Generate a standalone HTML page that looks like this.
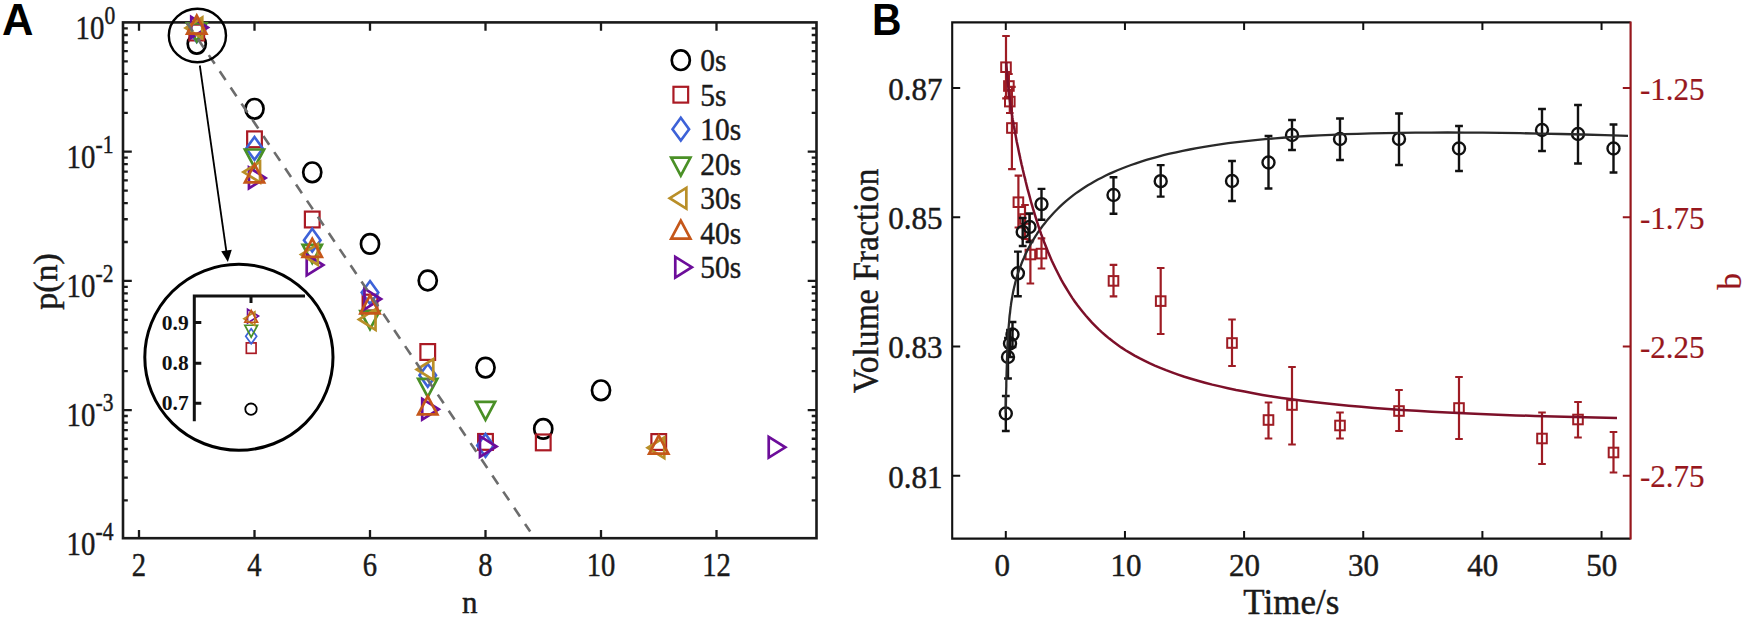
<!DOCTYPE html>
<html lang="en">
<head>
<meta charset="utf-8">
<title>Figure: p(n) distribution and volume fraction vs time</title>
<style>
html,body{margin:0;padding:0;background:#ffffff;}
body{width:1746px;height:622px;overflow:hidden;font-family:"Liberation Serif",serif;}
svg{display:block;}
</style>
</head>
<body>
<svg width="1746" height="622" viewBox="0 0 1746 622">
<rect x="0" y="0" width="1746" height="622" fill="#ffffff"/>
<g id="panelA">
<rect x="123.0" y="22.4" width="693.5" height="515.8000000000001" fill="none" stroke="#1a1a1a" stroke-width="2.6"/>
<path d="M139.00 538.2 v-8.3 M139.00 22.4 v8.3 M254.50 538.2 v-8.3 M254.50 22.4 v8.3 M370.00 538.2 v-8.3 M370.00 22.4 v8.3 M485.50 538.2 v-8.3 M485.50 22.4 v8.3 M601.00 538.2 v-8.3 M601.00 22.4 v8.3 M716.50 538.2 v-8.3 M716.50 22.4 v8.3 M123.0 112.81 h4.8 M816.5 112.81 h-4.8 M123.0 90.06 h4.8 M816.5 90.06 h-4.8 M123.0 73.91 h4.8 M816.5 73.91 h-4.8 M123.0 61.39 h4.8 M816.5 61.39 h-4.8 M123.0 51.16 h4.8 M816.5 51.16 h-4.8 M123.0 42.51 h4.8 M816.5 42.51 h-4.8 M123.0 35.02 h4.8 M816.5 35.02 h-4.8 M123.0 28.41 h4.8 M816.5 28.41 h-4.8 M123.0 151.70 h8.8 M816.5 151.70 h-8.8 M123.0 242.01 h4.8 M816.5 242.01 h-4.8 M123.0 219.26 h4.8 M816.5 219.26 h-4.8 M123.0 203.11 h4.8 M816.5 203.11 h-4.8 M123.0 190.59 h4.8 M816.5 190.59 h-4.8 M123.0 180.36 h4.8 M816.5 180.36 h-4.8 M123.0 171.71 h4.8 M816.5 171.71 h-4.8 M123.0 164.22 h4.8 M816.5 164.22 h-4.8 M123.0 157.61 h4.8 M816.5 157.61 h-4.8 M123.0 280.90 h8.8 M816.5 280.90 h-8.8 M123.0 371.21 h4.8 M816.5 371.21 h-4.8 M123.0 348.46 h4.8 M816.5 348.46 h-4.8 M123.0 332.31 h4.8 M816.5 332.31 h-4.8 M123.0 319.79 h4.8 M816.5 319.79 h-4.8 M123.0 309.56 h4.8 M816.5 309.56 h-4.8 M123.0 300.91 h4.8 M816.5 300.91 h-4.8 M123.0 293.42 h4.8 M816.5 293.42 h-4.8 M123.0 286.81 h4.8 M816.5 286.81 h-4.8 M123.0 410.10 h8.8 M816.5 410.10 h-8.8 M123.0 500.41 h4.8 M816.5 500.41 h-4.8 M123.0 477.66 h4.8 M816.5 477.66 h-4.8 M123.0 461.51 h4.8 M816.5 461.51 h-4.8 M123.0 448.99 h4.8 M816.5 448.99 h-4.8 M123.0 438.76 h4.8 M816.5 438.76 h-4.8 M123.0 430.11 h4.8 M816.5 430.11 h-4.8 M123.0 422.62 h4.8 M816.5 422.62 h-4.8 M123.0 416.01 h4.8 M816.5 416.01 h-4.8" stroke="#1a1a1a" stroke-width="2.3" fill="none"/>
<text transform="translate(104.30 38.60) scale(0.86 1)" font-family='"Liberation Serif", serif' font-size="33.5" text-anchor="end" fill="#1a1a1a" stroke="#1a1a1a" stroke-width="0.45">10</text>
<text transform="translate(104.60 23.50) scale(0.86 1)" font-family='"Liberation Serif", serif' font-size="25" text-anchor="start" fill="#1a1a1a" stroke="#1a1a1a" stroke-width="0.45">0</text>
<text transform="translate(95.30 167.80) scale(0.86 1)" font-family='"Liberation Serif", serif' font-size="33.5" text-anchor="end" fill="#1a1a1a" stroke="#1a1a1a" stroke-width="0.45">10</text>
<text transform="translate(95.60 152.70) scale(0.86 1)" font-family='"Liberation Serif", serif' font-size="25" text-anchor="start" fill="#1a1a1a" stroke="#1a1a1a" stroke-width="0.45">-1</text>
<text transform="translate(95.30 297.00) scale(0.86 1)" font-family='"Liberation Serif", serif' font-size="33.5" text-anchor="end" fill="#1a1a1a" stroke="#1a1a1a" stroke-width="0.45">10</text>
<text transform="translate(95.60 281.90) scale(0.86 1)" font-family='"Liberation Serif", serif' font-size="25" text-anchor="start" fill="#1a1a1a" stroke="#1a1a1a" stroke-width="0.45">-2</text>
<text transform="translate(95.30 426.20) scale(0.86 1)" font-family='"Liberation Serif", serif' font-size="33.5" text-anchor="end" fill="#1a1a1a" stroke="#1a1a1a" stroke-width="0.45">10</text>
<text transform="translate(95.60 411.10) scale(0.86 1)" font-family='"Liberation Serif", serif' font-size="25" text-anchor="start" fill="#1a1a1a" stroke="#1a1a1a" stroke-width="0.45">-3</text>
<text transform="translate(95.30 555.40) scale(0.86 1)" font-family='"Liberation Serif", serif' font-size="33.5" text-anchor="end" fill="#1a1a1a" stroke="#1a1a1a" stroke-width="0.45">10</text>
<text transform="translate(95.60 540.30) scale(0.86 1)" font-family='"Liberation Serif", serif' font-size="25" text-anchor="start" fill="#1a1a1a" stroke="#1a1a1a" stroke-width="0.45">-4</text>
<text transform="translate(139.00 575.70) scale(0.855 1)" font-family='"Liberation Serif", serif' font-size="33.5" text-anchor="middle" fill="#1a1a1a" stroke="#1a1a1a" stroke-width="0.45">2</text>
<text transform="translate(254.50 575.70) scale(0.855 1)" font-family='"Liberation Serif", serif' font-size="33.5" text-anchor="middle" fill="#1a1a1a" stroke="#1a1a1a" stroke-width="0.45">4</text>
<text transform="translate(370.00 575.70) scale(0.855 1)" font-family='"Liberation Serif", serif' font-size="33.5" text-anchor="middle" fill="#1a1a1a" stroke="#1a1a1a" stroke-width="0.45">6</text>
<text transform="translate(485.50 575.70) scale(0.855 1)" font-family='"Liberation Serif", serif' font-size="33.5" text-anchor="middle" fill="#1a1a1a" stroke="#1a1a1a" stroke-width="0.45">8</text>
<text transform="translate(601.00 575.70) scale(0.855 1)" font-family='"Liberation Serif", serif' font-size="33.5" text-anchor="middle" fill="#1a1a1a" stroke="#1a1a1a" stroke-width="0.45">10</text>
<text transform="translate(716.50 575.70) scale(0.855 1)" font-family='"Liberation Serif", serif' font-size="33.5" text-anchor="middle" fill="#1a1a1a" stroke="#1a1a1a" stroke-width="0.45">12</text>
<text transform="translate(469.80 612.90) scale(0.97 1)" font-family='"Liberation Serif", serif' font-size="32" text-anchor="middle" fill="#1a1a1a" stroke="#1a1a1a" stroke-width="0.45">n</text>
<text transform="translate(56.50 281.50) rotate(-90) scale(1.03 1)" font-family='"Liberation Serif", serif' font-size="33" text-anchor="middle" fill="#1a1a1a" stroke="#1a1a1a" stroke-width="0.45">p(n)</text>
<text transform="translate(1.90 35.00) scale(0.99 1)" font-family='"Liberation Sans", sans-serif' font-size="44" font-weight="bold" text-anchor="start" fill="#000">A</text>
<ellipse cx="196.75" cy="43.80" rx="9.05" ry="9.80" fill="none" stroke="#000000" stroke-width="2.70"/>
<ellipse cx="254.50" cy="108.80" rx="9.05" ry="9.80" fill="none" stroke="#000000" stroke-width="2.70"/>
<ellipse cx="312.25" cy="172.30" rx="9.05" ry="9.80" fill="none" stroke="#000000" stroke-width="2.70"/>
<ellipse cx="370.00" cy="243.90" rx="9.05" ry="9.80" fill="none" stroke="#000000" stroke-width="2.70"/>
<ellipse cx="427.75" cy="280.50" rx="9.05" ry="9.80" fill="none" stroke="#000000" stroke-width="2.70"/>
<ellipse cx="485.50" cy="367.60" rx="9.05" ry="9.80" fill="none" stroke="#000000" stroke-width="2.70"/>
<ellipse cx="543.25" cy="428.90" rx="9.05" ry="9.80" fill="none" stroke="#000000" stroke-width="2.70"/>
<ellipse cx="601.00" cy="390.30" rx="9.05" ry="9.80" fill="none" stroke="#000000" stroke-width="2.70"/>
<rect x="189.40" y="24.60" width="14.70" height="15.80" fill="none" stroke="#aa1a24" stroke-width="2.20"/>
<rect x="247.15" y="131.40" width="14.70" height="15.80" fill="none" stroke="#aa1a24" stroke-width="2.20"/>
<rect x="304.90" y="211.60" width="14.70" height="15.80" fill="none" stroke="#aa1a24" stroke-width="2.20"/>
<rect x="362.65" y="294.70" width="14.70" height="15.80" fill="none" stroke="#aa1a24" stroke-width="2.20"/>
<rect x="420.40" y="344.10" width="14.70" height="15.80" fill="none" stroke="#aa1a24" stroke-width="2.20"/>
<rect x="478.15" y="434.00" width="14.70" height="15.80" fill="none" stroke="#aa1a24" stroke-width="2.20"/>
<rect x="535.90" y="434.50" width="14.70" height="15.80" fill="none" stroke="#aa1a24" stroke-width="2.20"/>
<rect x="651.40" y="434.10" width="14.70" height="15.80" fill="none" stroke="#aa1a24" stroke-width="2.20"/>
<polygon points="196.75,19.20 205.05,30.60 196.75,42.00 188.45,30.60" fill="none" stroke="#3d62d8" stroke-width="2.60" stroke-linejoin="miter"/>
<polygon points="254.50,137.00 262.80,148.40 254.50,159.80 246.20,148.40" fill="none" stroke="#3d62d8" stroke-width="2.60" stroke-linejoin="miter"/>
<polygon points="312.25,228.80 320.55,240.20 312.25,251.60 303.95,240.20" fill="none" stroke="#3d62d8" stroke-width="2.60" stroke-linejoin="miter"/>
<polygon points="370.00,281.10 378.30,292.50 370.00,303.90 361.70,292.50" fill="none" stroke="#3d62d8" stroke-width="2.60" stroke-linejoin="miter"/>
<polygon points="427.75,363.90 436.05,375.30 427.75,386.70 419.45,375.30" fill="none" stroke="#3d62d8" stroke-width="2.60" stroke-linejoin="miter"/>
<polygon points="485.50,434.00 493.80,445.40 485.50,456.80 477.20,445.40" fill="none" stroke="#3d62d8" stroke-width="2.60" stroke-linejoin="miter"/>
<polygon points="187.15,23.40 206.35,23.40 196.75,41.40" fill="none" stroke="#4a9026" stroke-width="2.70" stroke-linejoin="miter"/>
<polygon points="244.90,149.50 264.10,149.50 254.50,167.50" fill="none" stroke="#4a9026" stroke-width="2.70" stroke-linejoin="miter"/>
<polygon points="302.65,244.80 321.85,244.80 312.25,262.80" fill="none" stroke="#4a9026" stroke-width="2.70" stroke-linejoin="miter"/>
<polygon points="360.40,311.20 379.60,311.20 370.00,329.20" fill="none" stroke="#4a9026" stroke-width="2.70" stroke-linejoin="miter"/>
<polygon points="418.15,378.80 437.35,378.80 427.75,396.80" fill="none" stroke="#4a9026" stroke-width="2.70" stroke-linejoin="miter"/>
<polygon points="475.90,401.90 495.10,401.90 485.50,419.90" fill="none" stroke="#4a9026" stroke-width="2.70" stroke-linejoin="miter"/>
<polygon points="191.22,17.02 191.22,37.77 207.82,27.40" fill="none" stroke="#6c0d9a" stroke-width="2.70" stroke-linejoin="miter"/>
<polygon points="248.97,167.53 248.97,188.28 265.57,177.90" fill="none" stroke="#6c0d9a" stroke-width="2.70" stroke-linejoin="miter"/>
<polygon points="306.72,254.62 306.72,275.38 323.32,265.00" fill="none" stroke="#6c0d9a" stroke-width="2.70" stroke-linejoin="miter"/>
<polygon points="364.47,288.62 364.47,309.38 381.07,299.00" fill="none" stroke="#6c0d9a" stroke-width="2.70" stroke-linejoin="miter"/>
<polygon points="422.22,398.82 422.22,419.57 438.82,409.20" fill="none" stroke="#6c0d9a" stroke-width="2.70" stroke-linejoin="miter"/>
<polygon points="479.97,436.12 479.97,456.88 496.57,446.50" fill="none" stroke="#6c0d9a" stroke-width="2.70" stroke-linejoin="miter"/>
<polygon points="768.72,436.93 768.72,457.68 785.32,447.30" fill="none" stroke="#6c0d9a" stroke-width="2.70" stroke-linejoin="miter"/>
<polygon points="202.28,17.52 202.28,38.27 185.68,27.90" fill="none" stroke="#b98f28" stroke-width="2.70" stroke-linejoin="miter"/>
<polygon points="260.03,161.72 260.03,182.47 243.43,172.10" fill="none" stroke="#b98f28" stroke-width="2.70" stroke-linejoin="miter"/>
<polygon points="317.78,244.12 317.78,264.88 301.18,254.50" fill="none" stroke="#b98f28" stroke-width="2.70" stroke-linejoin="miter"/>
<polygon points="375.53,309.12 375.53,329.88 358.93,319.50" fill="none" stroke="#b98f28" stroke-width="2.70" stroke-linejoin="miter"/>
<polygon points="433.28,359.12 433.28,379.88 416.68,369.50" fill="none" stroke="#b98f28" stroke-width="2.70" stroke-linejoin="miter"/>
<polygon points="664.28,437.43 664.28,458.18 647.68,447.80" fill="none" stroke="#b98f28" stroke-width="2.70" stroke-linejoin="miter"/>
<polygon points="187.15,33.60 206.35,33.60 196.75,15.60" fill="none" stroke="#c5571a" stroke-width="2.70" stroke-linejoin="miter"/>
<polygon points="244.90,182.40 264.10,182.40 254.50,164.40" fill="none" stroke="#c5571a" stroke-width="2.70" stroke-linejoin="miter"/>
<polygon points="302.65,256.90 321.85,256.90 312.25,238.90" fill="none" stroke="#c5571a" stroke-width="2.70" stroke-linejoin="miter"/>
<polygon points="360.40,313.40 379.60,313.40 370.00,295.40" fill="none" stroke="#c5571a" stroke-width="2.70" stroke-linejoin="miter"/>
<polygon points="418.15,414.30 437.35,414.30 427.75,396.30" fill="none" stroke="#c5571a" stroke-width="2.70" stroke-linejoin="miter"/>
<polygon points="649.15,453.60 668.35,453.60 658.75,435.60" fill="none" stroke="#c5571a" stroke-width="2.70" stroke-linejoin="miter"/>
<line x1="187.0" y1="22.8" x2="530.2" y2="531.6" stroke="#6c6c6c" stroke-width="2.6" stroke-dasharray="10.5 9" stroke-dashoffset="0"/>
<ellipse cx="197.4" cy="35.5" rx="28.6" ry="26.8" fill="none" stroke="#000" stroke-width="2.4"/>
<line x1="199.8" y1="65.5" x2="226.6" y2="253" stroke="#000" stroke-width="1.8"/>
<polygon points="227.9,262 221.2,251.2 231.8,249.7" fill="#000"/>
<ellipse cx="238.9" cy="357.3" rx="94.1" ry="93.0" fill="none" stroke="#000" stroke-width="3.0"/>
<path d="M194.3 421.2 V295.9 H305 M251 295.9 v7.2 M194.3 322.5 h7 M194.3 363.2 h7 M194.3 403.2 h7" fill="none" stroke="#111" stroke-width="3.0"/>
<text transform="translate(188.70 329.70)" font-family='"Liberation Serif", serif' font-size="21.5" font-weight="bold" text-anchor="end" fill="#111">0.9</text>
<text transform="translate(188.70 370.40)" font-family='"Liberation Serif", serif' font-size="21.5" font-weight="bold" text-anchor="end" fill="#111">0.8</text>
<text transform="translate(188.70 410.40)" font-family='"Liberation Serif", serif' font-size="21.5" font-weight="bold" text-anchor="end" fill="#111">0.7</text>
<circle cx="251" cy="409.2" r="5.7" fill="none" stroke="#000" stroke-width="1.8"/>
<rect x="246.35" y="342.89" width="9.70" height="10.43" fill="none" stroke="#aa1a24" stroke-width="1.70"/>
<polygon points="251.20,328.78 256.68,336.30 251.20,343.82 245.72,336.30" fill="none" stroke="#3d62d8" stroke-width="1.70" stroke-linejoin="miter"/>
<polygon points="244.86,325.24 257.54,325.24 251.20,337.12" fill="none" stroke="#4a9026" stroke-width="1.70" stroke-linejoin="miter"/>
<polygon points="247.55,309.25 247.55,322.95 258.50,316.10" fill="none" stroke="#6c0d9a" stroke-width="1.70" stroke-linejoin="miter"/>
<polygon points="254.85,311.85 254.85,325.55 243.90,318.70" fill="none" stroke="#b98f28" stroke-width="1.70" stroke-linejoin="miter"/>
<polygon points="244.86,322.26 257.54,322.26 251.20,310.38" fill="none" stroke="#c5571a" stroke-width="1.70" stroke-linejoin="miter"/>
<ellipse cx="680.80" cy="60.20" rx="9.05" ry="9.80" fill="none" stroke="#000000" stroke-width="2.70"/>
<text transform="translate(700.30 71.10) scale(0.92 1)" font-family='"Liberation Serif", serif' font-size="32" text-anchor="start" fill="#1a1a1a" stroke="#1a1a1a" stroke-width="0.45">0s</text>
<rect x="673.45" y="86.80" width="14.70" height="15.80" fill="none" stroke="#aa1a24" stroke-width="2.20"/>
<text transform="translate(700.30 105.60) scale(0.92 1)" font-family='"Liberation Serif", serif' font-size="32" text-anchor="start" fill="#1a1a1a" stroke="#1a1a1a" stroke-width="0.45">5s</text>
<polygon points="680.80,117.80 689.10,129.20 680.80,140.60 672.50,129.20" fill="none" stroke="#3d62d8" stroke-width="2.60" stroke-linejoin="miter"/>
<text transform="translate(700.30 140.10) scale(0.92 1)" font-family='"Liberation Serif", serif' font-size="32" text-anchor="start" fill="#1a1a1a" stroke="#1a1a1a" stroke-width="0.45">10s</text>
<polygon points="671.20,157.70 690.40,157.70 680.80,175.70" fill="none" stroke="#4a9026" stroke-width="2.70" stroke-linejoin="miter"/>
<text transform="translate(700.30 174.60) scale(0.92 1)" font-family='"Liberation Serif", serif' font-size="32" text-anchor="start" fill="#1a1a1a" stroke="#1a1a1a" stroke-width="0.45">20s</text>
<polygon points="686.33,187.83 686.33,208.58 669.73,198.20" fill="none" stroke="#b98f28" stroke-width="2.70" stroke-linejoin="miter"/>
<text transform="translate(700.30 209.10) scale(0.92 1)" font-family='"Liberation Serif", serif' font-size="32" text-anchor="start" fill="#1a1a1a" stroke="#1a1a1a" stroke-width="0.45">30s</text>
<polygon points="671.20,238.70 690.40,238.70 680.80,220.70" fill="none" stroke="#c5571a" stroke-width="2.70" stroke-linejoin="miter"/>
<text transform="translate(700.30 243.60) scale(0.92 1)" font-family='"Liberation Serif", serif' font-size="32" text-anchor="start" fill="#1a1a1a" stroke="#1a1a1a" stroke-width="0.45">40s</text>
<polygon points="675.27,256.82 675.27,277.57 691.87,267.20" fill="none" stroke="#6c0d9a" stroke-width="2.70" stroke-linejoin="miter"/>
<text transform="translate(700.30 278.10) scale(0.92 1)" font-family='"Liberation Serif", serif' font-size="32" text-anchor="start" fill="#1a1a1a" stroke="#1a1a1a" stroke-width="0.45">50s</text>
</g>
<g id="panelB">
<path d="M1630.6 22.4 H952.2 V538.6 H1630.6" fill="none" stroke="#111" stroke-width="2.1"/>
<path d="M1005.80 538.6 v-7.6 M1005.80 22.4 v7.6 M1124.95 538.6 v-7.6 M1124.95 22.4 v7.6 M1244.10 538.6 v-7.6 M1244.10 22.4 v7.6 M1363.25 538.6 v-7.6 M1363.25 22.4 v7.6 M1482.40 538.6 v-7.6 M1482.40 22.4 v7.6 M1601.55 538.6 v-7.6 M1601.55 22.4 v7.6 M952.2 88.0 h8 M952.2 217.2 h8 M952.2 346.4 h8 M952.2 475.8 h8" stroke="#111" stroke-width="2" fill="none"/>
<path d="M1630.6 21.4 V539.6" fill="none" stroke="#97171d" stroke-width="2.2"/>
<path d="M1630.6 88.0 h-7.8 M1630.6 217.2 h-7.8 M1630.6 346.4 h-7.8 M1630.6 475.8 h-7.8" stroke="#97171d" stroke-width="2" fill="none"/>
<text transform="translate(942.40 99.70)" font-family='"Liberation Serif", serif' font-size="31" text-anchor="end" fill="#1a1a1a" stroke="#1a1a1a" stroke-width="0.45">0.87</text>
<text transform="translate(1640.00 99.50)" font-family='"Liberation Serif", serif' font-size="31" text-anchor="start" fill="#97171d" stroke="#97171d" stroke-width="0.2">-1.25</text>
<text transform="translate(942.40 228.90)" font-family='"Liberation Serif", serif' font-size="31" text-anchor="end" fill="#1a1a1a" stroke="#1a1a1a" stroke-width="0.45">0.85</text>
<text transform="translate(1640.00 228.70)" font-family='"Liberation Serif", serif' font-size="31" text-anchor="start" fill="#97171d" stroke="#97171d" stroke-width="0.2">-1.75</text>
<text transform="translate(942.40 358.10)" font-family='"Liberation Serif", serif' font-size="31" text-anchor="end" fill="#1a1a1a" stroke="#1a1a1a" stroke-width="0.45">0.83</text>
<text transform="translate(1640.00 357.90)" font-family='"Liberation Serif", serif' font-size="31" text-anchor="start" fill="#97171d" stroke="#97171d" stroke-width="0.2">-2.25</text>
<text transform="translate(942.40 487.50)" font-family='"Liberation Serif", serif' font-size="31" text-anchor="end" fill="#1a1a1a" stroke="#1a1a1a" stroke-width="0.45">0.81</text>
<text transform="translate(1640.00 487.30)" font-family='"Liberation Serif", serif' font-size="31" text-anchor="start" fill="#97171d" stroke="#97171d" stroke-width="0.2">-2.75</text>
<text transform="translate(1002.20 576.00)" font-family='"Liberation Serif", serif' font-size="31" text-anchor="middle" fill="#1a1a1a" stroke="#1a1a1a" stroke-width="0.45">0</text>
<text transform="translate(1125.95 576.00)" font-family='"Liberation Serif", serif' font-size="31" text-anchor="middle" fill="#1a1a1a" stroke="#1a1a1a" stroke-width="0.45">10</text>
<text transform="translate(1244.40 576.00)" font-family='"Liberation Serif", serif' font-size="31" text-anchor="middle" fill="#1a1a1a" stroke="#1a1a1a" stroke-width="0.45">20</text>
<text transform="translate(1363.55 576.00)" font-family='"Liberation Serif", serif' font-size="31" text-anchor="middle" fill="#1a1a1a" stroke="#1a1a1a" stroke-width="0.45">30</text>
<text transform="translate(1482.70 576.00)" font-family='"Liberation Serif", serif' font-size="31" text-anchor="middle" fill="#1a1a1a" stroke="#1a1a1a" stroke-width="0.45">40</text>
<text transform="translate(1601.85 576.00)" font-family='"Liberation Serif", serif' font-size="31" text-anchor="middle" fill="#1a1a1a" stroke="#1a1a1a" stroke-width="0.45">50</text>
<text transform="translate(1291.30 614.00)" font-family='"Liberation Serif", serif' font-size="35" text-anchor="middle" fill="#1a1a1a" stroke="#1a1a1a" stroke-width="0.45">Time/s</text>
<text transform="translate(878.30 281.00) rotate(-90) scale(0.935 1)" font-family='"Liberation Serif", serif' font-size="36" text-anchor="middle" fill="#1a1a1a" stroke="#1a1a1a" stroke-width="0.45">Volume Fraction</text>
<text transform="translate(1741.00 281.30) rotate(-90)" font-family='"Liberation Serif", serif' font-size="33.5" text-anchor="middle" fill="#97171d" stroke="#97171d" stroke-width="0.2">b</text>
<text transform="translate(871.90 34.90) scale(0.93 1)" font-family='"Liberation Sans", sans-serif' font-size="44" font-weight="bold" text-anchor="start" fill="#000">B</text>
<path d="M1006.0 36.0 V98.4 M1002.2 36.0 h7.6 M1002.2 98.4 h7.6" fill="none" stroke="#9e1c24" stroke-width="2.2"/>
<rect x="1001.2" y="62.4" width="9.6" height="9.6" fill="none" stroke="#9e1c24" stroke-width="2.0"/>
<path d="M1008.9 74.0 V98.0 M1005.1 74.0 h7.6 M1005.1 98.0 h7.6" fill="none" stroke="#9e1c24" stroke-width="2.2"/>
<rect x="1004.1" y="81.2" width="9.6" height="9.6" fill="none" stroke="#9e1c24" stroke-width="2.0"/>
<path d="M1009.8 90.0 V113.0 M1006.0 90.0 h7.6 M1006.0 113.0 h7.6" fill="none" stroke="#9e1c24" stroke-width="2.2"/>
<rect x="1005.0" y="96.8" width="9.6" height="9.6" fill="none" stroke="#9e1c24" stroke-width="2.0"/>
<path d="M1011.9 86.8 V169.2 M1008.1 86.8 h7.6 M1008.1 169.2 h7.6" fill="none" stroke="#9e1c24" stroke-width="2.2"/>
<rect x="1007.1" y="123.2" width="9.6" height="9.6" fill="none" stroke="#9e1c24" stroke-width="2.0"/>
<path d="M1018.4 175.7 V227.5 M1014.6 175.7 h7.6 M1014.6 227.5 h7.6" fill="none" stroke="#9e1c24" stroke-width="2.2"/>
<rect x="1013.6" y="197.4" width="9.6" height="9.6" fill="none" stroke="#9e1c24" stroke-width="2.0"/>
<path d="M1025.0 205.0 V239.0 M1021.2 205.0 h7.6 M1021.2 239.0 h7.6" fill="none" stroke="#9e1c24" stroke-width="2.2"/>
<rect x="1020.2" y="214.2" width="9.6" height="9.6" fill="none" stroke="#9e1c24" stroke-width="2.0"/>
<path d="M1030.4 240.5 V283.5 M1026.6 240.5 h7.6 M1026.6 283.5 h7.6" fill="none" stroke="#9e1c24" stroke-width="2.2"/>
<rect x="1025.6" y="249.7" width="9.6" height="9.6" fill="none" stroke="#9e1c24" stroke-width="2.0"/>
<path d="M1041.5 238.4 V268.5 M1037.7 238.4 h7.6 M1037.7 268.5 h7.6" fill="none" stroke="#9e1c24" stroke-width="2.2"/>
<rect x="1036.7" y="248.8" width="9.6" height="9.6" fill="none" stroke="#9e1c24" stroke-width="2.0"/>
<path d="M1113.5 264.8 V296.3 M1109.7 264.8 h7.6 M1109.7 296.3 h7.6" fill="none" stroke="#9e1c24" stroke-width="2.2"/>
<rect x="1108.7" y="276.1" width="9.6" height="9.6" fill="none" stroke="#9e1c24" stroke-width="2.0"/>
<path d="M1160.7 268.0 V334.0 M1156.9 268.0 h7.6 M1156.9 334.0 h7.6" fill="none" stroke="#9e1c24" stroke-width="2.2"/>
<rect x="1155.9" y="296.3" width="9.6" height="9.6" fill="none" stroke="#9e1c24" stroke-width="2.0"/>
<path d="M1232.0 319.5 V366.0 M1228.2 319.5 h7.6 M1228.2 366.0 h7.6" fill="none" stroke="#9e1c24" stroke-width="2.2"/>
<rect x="1227.2" y="338.2" width="9.6" height="9.6" fill="none" stroke="#9e1c24" stroke-width="2.0"/>
<path d="M1268.5 402.5 V438.5 M1264.7 402.5 h7.6 M1264.7 438.5 h7.6" fill="none" stroke="#9e1c24" stroke-width="2.2"/>
<rect x="1263.7" y="415.2" width="9.6" height="9.6" fill="none" stroke="#9e1c24" stroke-width="2.0"/>
<path d="M1292.0 367.0 V444.5 M1288.2 367.0 h7.6 M1288.2 444.5 h7.6" fill="none" stroke="#9e1c24" stroke-width="2.2"/>
<rect x="1287.2" y="400.2" width="9.6" height="9.6" fill="none" stroke="#9e1c24" stroke-width="2.0"/>
<path d="M1340.0 412.5 V438.5 M1336.2 412.5 h7.6 M1336.2 438.5 h7.6" fill="none" stroke="#9e1c24" stroke-width="2.2"/>
<rect x="1335.2" y="420.7" width="9.6" height="9.6" fill="none" stroke="#9e1c24" stroke-width="2.0"/>
<path d="M1399.0 390.0 V431.0 M1395.2 390.0 h7.6 M1395.2 431.0 h7.6" fill="none" stroke="#9e1c24" stroke-width="2.2"/>
<rect x="1394.2" y="406.2" width="9.6" height="9.6" fill="none" stroke="#9e1c24" stroke-width="2.0"/>
<path d="M1459.0 377.0 V439.0 M1455.2 377.0 h7.6 M1455.2 439.0 h7.6" fill="none" stroke="#9e1c24" stroke-width="2.2"/>
<rect x="1454.2" y="403.2" width="9.6" height="9.6" fill="none" stroke="#9e1c24" stroke-width="2.0"/>
<path d="M1542.0 412.5 V464.0 M1538.2 412.5 h7.6 M1538.2 464.0 h7.6" fill="none" stroke="#9e1c24" stroke-width="2.2"/>
<rect x="1537.2" y="433.7" width="9.6" height="9.6" fill="none" stroke="#9e1c24" stroke-width="2.0"/>
<path d="M1578.0 402.0 V437.5 M1574.2 402.0 h7.6 M1574.2 437.5 h7.6" fill="none" stroke="#9e1c24" stroke-width="2.2"/>
<rect x="1573.2" y="414.7" width="9.6" height="9.6" fill="none" stroke="#9e1c24" stroke-width="2.0"/>
<path d="M1613.5 432.0 V472.5 M1609.7 432.0 h7.6 M1609.7 472.5 h7.6" fill="none" stroke="#9e1c24" stroke-width="2.2"/>
<rect x="1608.7" y="447.7" width="9.6" height="9.6" fill="none" stroke="#9e1c24" stroke-width="2.0"/>
<path d="M1005.8 396.0 V431.0 M1001.9 396.0 h7.8 M1001.9 431.0 h7.8" fill="none" stroke="#111" stroke-width="2.4"/>
<circle cx="1005.8" cy="413.5" r="6.0" fill="none" stroke="#111" stroke-width="2.4"/>
<path d="M1008.0 338.0 V378.5 M1004.1 338.0 h7.8 M1004.1 378.5 h7.8" fill="none" stroke="#111" stroke-width="2.4"/>
<circle cx="1008.0" cy="357.0" r="6.0" fill="none" stroke="#111" stroke-width="2.4"/>
<path d="M1010.0 330.0 V357.0 M1006.1 330.0 h7.8 M1006.1 357.0 h7.8" fill="none" stroke="#111" stroke-width="2.4"/>
<circle cx="1010.0" cy="343.5" r="6.0" fill="none" stroke="#111" stroke-width="2.4"/>
<path d="M1012.5 322.0 V347.0 M1008.6 322.0 h7.8 M1008.6 347.0 h7.8" fill="none" stroke="#111" stroke-width="2.4"/>
<circle cx="1012.5" cy="334.5" r="6.0" fill="none" stroke="#111" stroke-width="2.4"/>
<path d="M1017.9 251.6 V296.2 M1014.0 251.6 h7.8 M1014.0 296.2 h7.8" fill="none" stroke="#111" stroke-width="2.4"/>
<circle cx="1017.9" cy="273.3" r="6.0" fill="none" stroke="#111" stroke-width="2.4"/>
<path d="M1022.7 218.0 V246.0 M1018.8 218.0 h7.8 M1018.8 246.0 h7.8" fill="none" stroke="#111" stroke-width="2.4"/>
<circle cx="1022.7" cy="231.9" r="6.0" fill="none" stroke="#111" stroke-width="2.4"/>
<path d="M1029.5 213.5 V242.0 M1025.6 213.5 h7.8 M1025.6 242.0 h7.8" fill="none" stroke="#111" stroke-width="2.4"/>
<circle cx="1029.5" cy="227.0" r="6.0" fill="none" stroke="#111" stroke-width="2.4"/>
<path d="M1041.5 188.9 V219.8 M1037.6 188.9 h7.8 M1037.6 219.8 h7.8" fill="none" stroke="#111" stroke-width="2.4"/>
<circle cx="1041.5" cy="204.1" r="6.0" fill="none" stroke="#111" stroke-width="2.4"/>
<path d="M1113.5 177.3 V213.7 M1109.6 177.3 h7.8 M1109.6 213.7 h7.8" fill="none" stroke="#111" stroke-width="2.4"/>
<circle cx="1113.5" cy="195.0" r="6.0" fill="none" stroke="#111" stroke-width="2.4"/>
<path d="M1160.7 165.1 V196.6 M1156.8 165.1 h7.8 M1156.8 196.6 h7.8" fill="none" stroke="#111" stroke-width="2.4"/>
<circle cx="1160.7" cy="181.2" r="6.0" fill="none" stroke="#111" stroke-width="2.4"/>
<path d="M1232.0 161.0 V201.0 M1228.1 161.0 h7.8 M1228.1 201.0 h7.8" fill="none" stroke="#111" stroke-width="2.4"/>
<circle cx="1232.0" cy="181.0" r="6.0" fill="none" stroke="#111" stroke-width="2.4"/>
<path d="M1268.5 136.0 V188.5 M1264.6 136.0 h7.8 M1264.6 188.5 h7.8" fill="none" stroke="#111" stroke-width="2.4"/>
<circle cx="1268.5" cy="162.5" r="6.0" fill="none" stroke="#111" stroke-width="2.4"/>
<path d="M1292.0 120.0 V150.0 M1288.1 120.0 h7.8 M1288.1 150.0 h7.8" fill="none" stroke="#111" stroke-width="2.4"/>
<circle cx="1292.0" cy="135.0" r="6.0" fill="none" stroke="#111" stroke-width="2.4"/>
<path d="M1340.0 118.5 V160.0 M1336.1 118.5 h7.8 M1336.1 160.0 h7.8" fill="none" stroke="#111" stroke-width="2.4"/>
<circle cx="1340.0" cy="139.0" r="6.0" fill="none" stroke="#111" stroke-width="2.4"/>
<path d="M1399.0 113.5 V165.0 M1395.1 113.5 h7.8 M1395.1 165.0 h7.8" fill="none" stroke="#111" stroke-width="2.4"/>
<circle cx="1399.0" cy="139.0" r="6.0" fill="none" stroke="#111" stroke-width="2.4"/>
<path d="M1459.0 126.0 V171.0 M1455.1 126.0 h7.8 M1455.1 171.0 h7.8" fill="none" stroke="#111" stroke-width="2.4"/>
<circle cx="1459.0" cy="148.5" r="6.0" fill="none" stroke="#111" stroke-width="2.4"/>
<path d="M1542.0 109.0 V151.0 M1538.1 109.0 h7.8 M1538.1 151.0 h7.8" fill="none" stroke="#111" stroke-width="2.4"/>
<circle cx="1542.0" cy="130.0" r="6.0" fill="none" stroke="#111" stroke-width="2.4"/>
<path d="M1578.0 105.0 V163.5 M1574.1 105.0 h7.8 M1574.1 163.5 h7.8" fill="none" stroke="#111" stroke-width="2.4"/>
<circle cx="1578.0" cy="134.0" r="6.0" fill="none" stroke="#111" stroke-width="2.4"/>
<path d="M1613.5 124.5 V172.5 M1609.6 124.5 h7.8 M1609.6 172.5 h7.8" fill="none" stroke="#111" stroke-width="2.4"/>
<circle cx="1613.5" cy="148.5" r="6.0" fill="none" stroke="#111" stroke-width="2.4"/>
<path d="M1005.8 412.6 L1005.9 408.6 L1005.9 404.7 L1006.0 400.8 L1006.0 397.0 L1006.1 393.4 L1006.2 389.8 L1006.3 386.2 L1006.3 382.8 L1006.4 379.4 L1006.5 376.1 L1006.6 372.9 L1006.7 369.7 L1006.8 366.6 L1006.9 363.6 L1006.9 360.7 L1007.1 357.8 L1007.2 354.9 L1007.3 352.2 L1007.4 349.5 L1007.5 346.8 L1007.6 344.2 L1007.8 341.7 L1007.9 339.2 L1008.0 336.7 L1008.2 334.4 L1008.3 332.0 L1008.5 329.7 L1008.6 327.5 L1008.8 325.3 L1009.0 323.1 L1009.2 321.0 L1009.3 319.0 L1009.5 316.9 L1009.7 314.9 L1010.0 313.0 L1010.2 311.0 L1010.4 309.1 L1010.6 307.3 L1010.9 305.4 L1011.1 303.6 L1011.4 301.8 L1011.7 300.0 L1012.0 298.3 L1012.3 296.6 L1012.6 294.9 L1012.9 293.2 L1013.2 291.5 L1013.6 289.9 L1013.9 288.2 L1014.3 286.6 L1014.7 285.0 L1015.1 283.4 L1015.5 281.8 L1015.9 280.2 L1016.4 278.6 L1016.8 277.0 L1017.3 275.4 L1017.8 273.8 L1018.4 272.2 L1018.9 270.6 L1019.5 269.0 L1020.1 267.4 L1020.7 265.8 L1021.3 264.1 L1021.9 262.5 L1022.6 260.8 L1023.3 259.2 L1024.1 257.5 L1024.8 255.8 L1025.6 254.1 L1026.5 252.3 L1027.3 250.6 L1028.2 248.8 L1029.1 247.1 L1030.1 245.3 L1031.1 243.5 L1032.1 241.7 L1033.2 239.9 L1034.3 238.1 L1035.5 236.2 L1036.7 234.4 L1037.9 232.5 L1039.2 230.6 L1040.6 228.7 L1042.0 226.8 L1043.4 224.9 L1045.0 223.0 L1046.5 221.1 L1048.2 219.1 L1049.8 217.2 L1051.6 215.2 L1053.4 213.2 L1055.3 211.2 L1057.3 209.2 L1059.4 207.2 L1061.5 205.2 L1063.7 203.2 L1066.0 201.2 L1068.4 199.2 L1070.9 197.2 L1073.4 195.2 L1076.1 193.2 L1078.9 191.2 L1081.8 189.3 L1084.8 187.3 L1087.9 185.3 L1091.1 183.4 L1094.4 181.5 L1097.9 179.5 L1101.6 177.7 L1105.3 175.8 L1109.2 173.9 L1113.3 172.1 L1117.5 170.3 L1121.9 168.5 L1126.4 166.7 L1131.1 165.0 L1136.0 163.3 L1141.1 161.6 L1146.4 159.9 L1151.9 158.3 L1157.6 156.8 L1163.5 155.2 L1169.7 153.7 L1176.1 152.3 L1182.7 150.8 L1189.6 149.5 L1196.8 148.1 L1204.2 146.8 L1211.9 145.6 L1220.0 144.4 L1228.3 143.2 L1237.0 142.1 L1246.0 141.1 L1255.3 140.1 L1265.0 139.2 L1275.1 138.3 L1285.5 137.5 L1296.4 136.7 L1307.7 136.0 L1319.4 135.3 L1331.6 134.8 L1344.3 134.2 L1357.4 133.8 L1371.1 133.4 L1385.2 133.1 L1400.0 132.8 L1415.3 132.7 L1431.1 132.6 L1447.6 132.5 L1464.8 132.6 L1482.6 132.7 L1501.1 132.9 L1520.3 133.2 L1540.2 133.6 L1560.9 134.0 L1582.4 134.5 L1604.8 135.2 L1628.0 135.9" fill="none" stroke="#2a2a2a" stroke-width="2.3"/>
<path d="M1006.3 62.0 L1006.4 63.4 L1006.4 64.7 L1006.5 66.0 L1006.6 67.4 L1006.7 68.7 L1006.8 70.0 L1006.9 71.3 L1007.0 72.6 L1007.1 73.9 L1007.2 75.2 L1007.3 76.5 L1007.4 77.8 L1007.5 79.1 L1007.6 80.4 L1007.7 81.8 L1007.9 83.1 L1008.0 84.4 L1008.1 85.7 L1008.3 87.1 L1008.4 88.4 L1008.6 89.8 L1008.7 91.2 L1008.9 92.6 L1009.0 94.0 L1009.2 95.4 L1009.4 96.9 L1009.6 98.3 L1009.8 99.8 L1010.0 101.3 L1010.2 102.8 L1010.4 104.4 L1010.6 105.9 L1010.9 107.5 L1011.1 109.2 L1011.4 110.8 L1011.6 112.5 L1011.9 114.2 L1012.2 115.9 L1012.4 117.7 L1012.7 119.5 L1013.1 121.4 L1013.4 123.2 L1013.7 125.2 L1014.1 127.1 L1014.4 129.1 L1014.8 131.1 L1015.2 133.2 L1015.6 135.3 L1016.0 137.5 L1016.4 139.7 L1016.8 141.9 L1017.3 144.2 L1017.8 146.6 L1018.3 149.0 L1018.8 151.4 L1019.3 153.9 L1019.9 156.5 L1020.4 159.1 L1021.0 161.7 L1021.6 164.5 L1022.3 167.2 L1022.9 170.1 L1023.6 173.0 L1024.3 175.9 L1025.1 178.9 L1025.8 182.0 L1026.6 185.2 L1027.4 188.4 L1028.3 191.6 L1029.2 194.9 L1030.1 198.3 L1031.0 201.7 L1032.0 205.2 L1033.0 208.7 L1034.1 212.2 L1035.2 215.8 L1036.3 219.4 L1037.5 223.1 L1038.7 226.8 L1039.9 230.5 L1041.2 234.2 L1042.6 237.9 L1044.0 241.7 L1045.5 245.5 L1047.0 249.3 L1048.5 253.1 L1050.2 256.9 L1051.8 260.7 L1053.6 264.5 L1055.4 268.2 L1057.3 272.0 L1059.2 275.8 L1061.2 279.6 L1063.3 283.3 L1065.5 287.0 L1067.7 290.7 L1070.0 294.4 L1072.4 298.1 L1074.9 301.7 L1077.5 305.3 L1080.2 308.8 L1083.0 312.3 L1085.9 315.8 L1088.9 319.2 L1092.0 322.6 L1095.2 325.9 L1098.5 329.2 L1102.0 332.4 L1105.6 335.5 L1109.3 338.6 L1113.1 341.6 L1117.1 344.5 L1121.2 347.4 L1125.5 350.2 L1130.0 352.9 L1134.6 355.6 L1139.4 358.2 L1144.3 360.7 L1149.4 363.2 L1154.8 365.6 L1160.3 367.9 L1166.0 370.2 L1171.9 372.4 L1178.1 374.6 L1184.4 376.7 L1191.0 378.7 L1197.9 380.7 L1205.0 382.7 L1212.3 384.6 L1220.0 386.4 L1227.9 388.2 L1236.1 390.0 L1244.6 391.6 L1253.4 393.3 L1262.5 394.9 L1272.0 396.4 L1281.8 397.9 L1292.0 399.3 L1302.5 400.7 L1313.4 402.0 L1324.8 403.3 L1336.5 404.5 L1348.7 405.7 L1361.3 406.8 L1374.4 407.9 L1388.0 408.9 L1402.0 409.9 L1416.6 410.8 L1431.7 411.7 L1447.4 412.5 L1463.7 413.3 L1480.5 414.0 L1498.0 414.7 L1516.1 415.4 L1534.8 415.9 L1554.3 416.5 L1574.4 417.0 L1595.3 417.4 L1617.0 417.9" fill="none" stroke="#7d1029" stroke-width="2.5"/>
</g>
</svg>
</body>
</html>
